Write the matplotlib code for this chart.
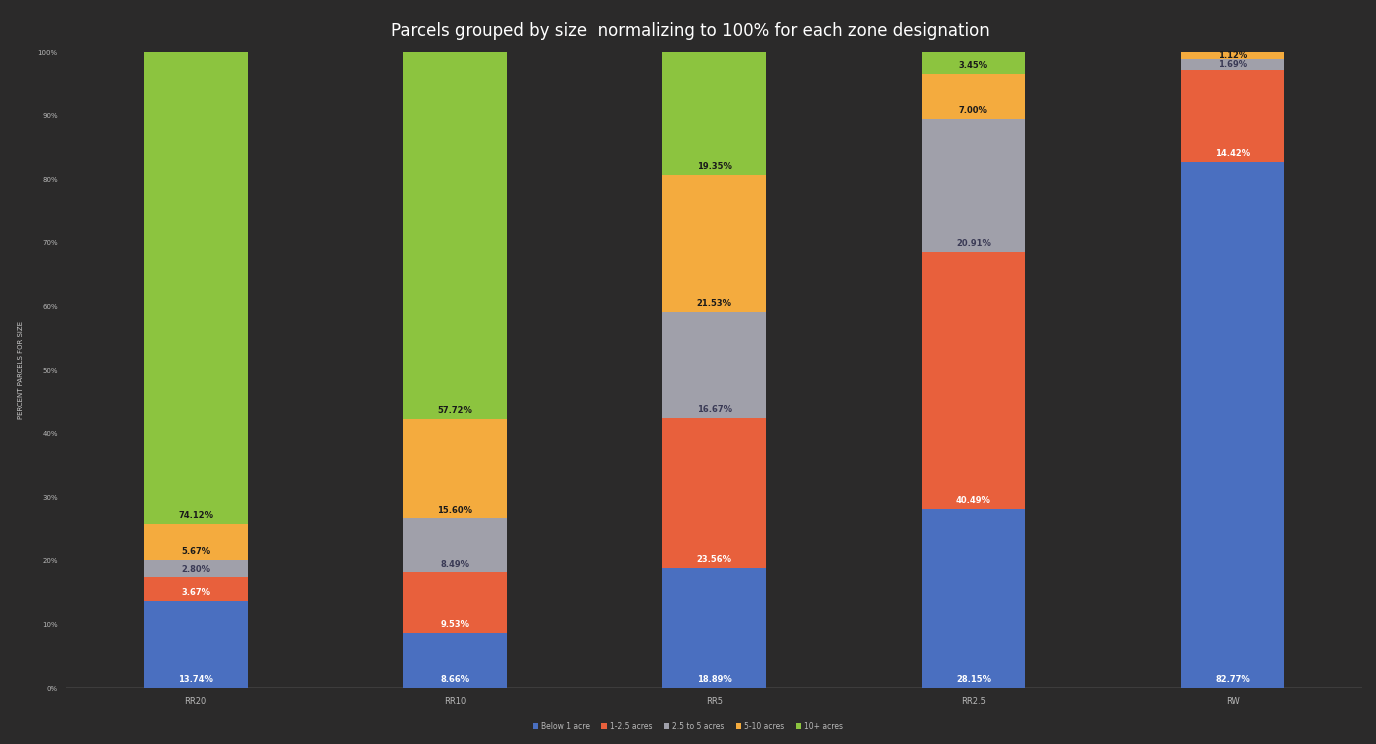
import matplotlib
matplotlib.use("Agg")
import matplotlib.pyplot as plt
import numpy as np

zones = ["RR20", "RR10", "RR5", "RR2.5", "RW"]
series_names = ["Below 1 acre", "1-2.5 acres", "2.5 to 5 acres", "5-10 acres", "10+ acres"]
below_1 = [13.74, 8.66, 18.89, 28.15, 82.77]
acres_1_2_5 = [3.67, 9.53, 23.56, 40.49, 14.42]
acres_2_5_5 = [2.80, 8.49, 16.67, 20.91, 1.69]
acres_5_10 = [5.67, 15.60, 21.53, 7.00, 1.12]
acres_10_plus = [74.12, 57.72, 19.35, 3.45, 0.0]
yticks = [0, 10, 20, 30, 40, 50, 60, 70, 80, 90, 100]

series = [below_1, acres_1_2_5, acres_2_5_5, acres_5_10, acres_10_plus]
colors = ["#4a6fc0", "#e8603c", "#a0a0aa", "#f4ab3e", "#8cc43f"]
label_colors = ["white", "white", "#3a3a55", "#1a1a1a", "#1a1a1a"]
bg = "#2b2a2a"

fig = plt.figure(figsize=(13.76, 7.44), dpi=100, facecolor=bg)
ax = fig.add_axes([0.048, 0.075, 0.942, 0.855], facecolor=bg)

x = np.arange(len(zones))
bottom = np.zeros(len(zones))
for name, vals, col, lc in zip(series_names, series, colors, label_colors):
    vals = np.array(vals)
    ax.bar(x, vals, width=0.4, bottom=bottom, color=col, label=name, zorder=3)
    for xi, b, v in zip(x, bottom, vals):
        if v > 0:
            ax.text(xi, b + min(1.3, v / 2), f"{v:.2f}%", ha="center", va="center",
                    fontsize=6, fontweight="bold", color=lc, zorder=4)
    bottom += vals

ax.set_xlim(-0.5, len(zones) - 0.5)
ax.set_ylim(0, 100)
ax.set_yticks(yticks)
ax.set_yticklabels([f"{t}%" for t in yticks], fontsize=5, color="#b8b8b8")
ax.set_xticks(x)
ax.set_xticklabels(zones, fontsize=6, color="#b8b8b8")
ax.tick_params(length=0, pad=6)
for s in ax.spines.values():
    s.set_visible(False)
ax.axhline(0, color="#8a8a8a", lw=1, zorder=2)
ax.set_ylabel("PERCENT PARCELS FOR SIZE", fontsize=5, color="#c8c8c8", labelpad=10)

fig.text(0.502, 0.958, "Parcels grouped by size  normalizing to 100% for each zone designation",
         ha="center", va="center", fontsize=12, color="white")

leg = fig.legend(loc="center", bbox_to_anchor=(0.5, 0.024), ncol=5, fontsize=5.5,
                 frameon=False, handlelength=0.7, handleheight=0.7, columnspacing=1.5,
                 handletextpad=0.4)
for t in leg.get_texts():
    t.set_color("#b8b8b8")

fig.savefig("out.png", dpi=100, facecolor=bg)
